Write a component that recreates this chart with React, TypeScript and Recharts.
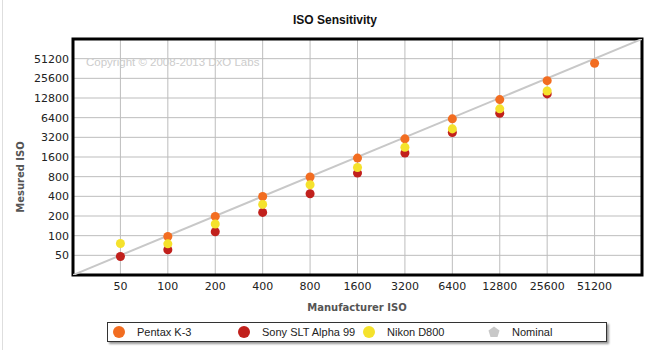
import React from "react";
import {
  ScatterChart,
  Scatter,
  XAxis,
  YAxis,
  ZAxis,
  CartesianGrid,
  ReferenceArea,
} from "recharts";

// manufacturer ISO settings (x) and the tick values shared by both axes
const isoSettings = [50, 100, 200, 400, 800, 1600, 3200, 6400, 12800, 25600, 51200];
const axisTicks = [50, 100, 200, 400, 800, 1600, 3200, 6400, 12800, 25600, 51200];
const axisDomain = [25, 102400];

const pentaxMeasured = [null, 97, 197, 397, 790, 1540, 3030, 6140, 12100, 23600, 43600];
const sonyMeasured = [48, 61, 115, 227, 438, 908, 1840, 3790, 7490, 14800, null];
const nikonMeasured = [76, 75, 151, 301, 602, 1106, 2260, 4310, 8740, 16400, null];
const nominalEnds = [25, 102400];

const seriesNames = ["Pentax K-3", "Sony SLT Alpha 99", "Nikon D800", "Nominal"];
const seriesColors = ["#f26d21", "#c1201c", "#f5e22c", "#c8c8c8"];

const toPoints = (vals: (number | null)[]) =>
  isoSettings
    .map((x, i) => ({ x, y: vals[i] }))
    .filter((p) => p.y != null);

const pentaxData = toPoints(pentaxMeasured);
const sonyData = toPoints(sonyMeasured);
const nikonData = toPoints(nikonMeasured);
const nominalData = nominalEnds.map((v) => ({ x: v, y: v }));

const tickStyle = { fontSize: 11, fill: "#222", fontFamily: "DejaVu Sans, Verdana, sans-serif" };
const labelFont = "DejaVu Sans, Verdana, sans-serif";

function Legend() {
  return (
    <div
      style={{
        position: "absolute",
        left: 107,
        top: 322,
        width: 498,
        height: 18,
        border: "1px solid #333",
        boxShadow: "2px 2px 2px #999",
        background: "#fff",
        fontFamily: "Liberation Sans, Arial, sans-serif",
        fontSize: 11,
        color: "#222",
      }}
    >
      {seriesNames.map((name, i) => (
        <div
          key={name}
          style={{ position: "absolute", left: 4 + i * 125, top: 0, height: 18, display: "flex", alignItems: "center" }}
        >
          <svg width={14} height={14} style={{ marginRight: 11 }}>
            {i < 3 ? (
              <circle cx={7} cy={7} r={6} fill={seriesColors[i]} />
            ) : (
              <polygon points="7,1.5 12.5,5.5 10.5,12 3.5,12 1.5,5.5" fill={seriesColors[i]} />
            )}
          </svg>
          <span>{name}</span>
        </div>
      ))}
    </div>
  );
}

export default function App() {
  return (
    <div style={{ position: "absolute", left: 0, top: 0, width: 659, height: 350, background: "#fff" }}>
      <div style={{ position: "absolute", left: 2, top: 0, width: 1, height: 350, background: "#dedede" }} />
      <ScatterChart width={659} height={350} margin={{ top: 39, right: 17, left: 0, bottom: 39 }}>
        <text x={86} y={66} fontSize={11.5} fill="#cccccc" fontFamily="Liberation Sans, Arial, sans-serif">
          Copyright © 2008-2013 DxO Labs
        </text>
        <CartesianGrid stroke="#bdbdbd" strokeWidth={1} />
        <XAxis
          dataKey="x"
          type="number"
          scale="log"
          domain={axisDomain}
          ticks={axisTicks}
          allowDataOverflow
          axisLine={false}
          tickLine={false}
          tickSize={0}
          tickMargin={7}
          height={36}
          tick={tickStyle}
          interval={0}
        />
        <YAxis
          dataKey="y"
          type="number"
          scale="log"
          domain={axisDomain}
          ticks={axisTicks}
          allowDataOverflow
          axisLine={false}
          tickLine={false}
          tickSize={0}
          tickMargin={4}
          width={73}
          tick={tickStyle}
          interval={0}
        />
        <ZAxis range={[95, 95]} />
        <Scatter
          name={seriesNames[3]}
          data={nominalData}
          line={{ stroke: seriesColors[3], strokeWidth: 2 }}
          shape={() => <g />}
          isAnimationActive={false}
        />
        <Scatter name={seriesNames[0]} data={pentaxData} fill={seriesColors[0]} isAnimationActive={false} />
        <Scatter name={seriesNames[1]} data={sonyData} fill={seriesColors[1]} isAnimationActive={false} />
        <Scatter name={seriesNames[2]} data={nikonData} fill={seriesColors[2]} isAnimationActive={false} />
        <ReferenceArea
          x1={axisDomain[0]}
          x2={axisDomain[1]}
          y1={axisDomain[0]}
          y2={axisDomain[1]}
          fill="none"
          fillOpacity={0}
          stroke="#000"
          strokeWidth={3}
          ifOverflow="visible"
        />
        <text
          x={335}
          y={24}
          textAnchor="middle"
          fontSize={12}
          fontWeight="bold"
          fill="#111"
          fontFamily="Liberation Sans Narrow, Arial Narrow, Liberation Sans, sans-serif"
        >
          ISO Sensitivity
        </text>
        <text x={357} y={311} textAnchor="middle" fontSize={10} fontWeight="bold" fill="#555" fontFamily={labelFont}>
          Manufacturer ISO
        </text>
        <text
          x={24}
          y={177}
          textAnchor="middle"
          fontSize={10}
          fontWeight="bold"
          fill="#555"
          fontFamily={labelFont}
          transform="rotate(-90 24 177)"
        >
          Mesured ISO
        </text>
      </ScatterChart>
      <Legend />
    </div>
  );
}
